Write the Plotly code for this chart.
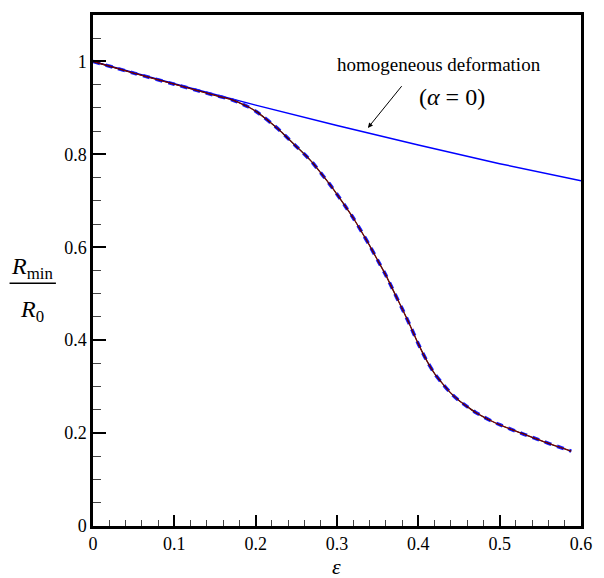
import plotly.graph_objects as go

# Homogeneous deformation line (alpha = 0)
eps_h = [0.0, 0.1, 0.2, 0.3, 0.4, 0.5, 0.6]
r_h = [1.0, 0.952, 0.906, 0.862, 0.82, 0.78, 0.743]

# Necking curve (three overlapping results)
eps_c = [0.0, 0.05, 0.1, 0.15, 0.17, 0.18, 0.19, 0.20, 0.21, 0.22, 0.23, 0.24, 0.25,
         0.26, 0.27, 0.28, 0.29, 0.30, 0.31, 0.32, 0.33, 0.34, 0.35, 0.36, 0.37, 0.38,
         0.39, 0.40, 0.41, 0.42, 0.43, 0.44, 0.45, 0.46, 0.47, 0.48, 0.49, 0.50, 0.52,
         0.54, 0.56, 0.58, 0.588]
r_c = [1.0, 0.975, 0.951, 0.927, 0.918, 0.911, 0.903, 0.893, 0.880, 0.866, 0.851, 0.834,
       0.817, 0.800, 0.782, 0.760, 0.738, 0.714, 0.689, 0.663, 0.634, 0.604, 0.572, 0.540,
       0.504, 0.468, 0.431, 0.392, 0.357, 0.328, 0.306, 0.286, 0.270, 0.257, 0.245, 0.235,
       0.226, 0.218, 0.204, 0.191, 0.178, 0.166, 0.161]

x_ticks = [0, 0.1, 0.2, 0.3, 0.4, 0.5, 0.6]
y_ticks = [0, 0.2, 0.4, 0.6, 0.8, 1.0]
x_labels = ["0", "0.1", "0.2", "0.3", "0.4", "0.5", "0.6"]
y_labels = ["0", "0.2", "0.4", "0.6", "0.8", "1"]

FONT = "Liberation Serif, Times New Roman, serif"

fig = go.Figure()
fig.add_trace(go.Scatter(x=eps_h, y=r_h, mode="lines",
                         line=dict(color="#0000ff", width=1.5), showlegend=False))
fig.add_trace(go.Scatter(x=eps_c, y=r_c, mode="lines", line_shape="spline",
                         line=dict(color="#1a1aff", width=3.5, dash="7px,6px", smoothing=0.8),
                         showlegend=False))
fig.add_trace(go.Scatter(x=eps_c, y=r_c, mode="lines", line_shape="spline",
                         line=dict(color="black", width=1.3, smoothing=0.8), showlegend=False))
fig.add_trace(go.Scatter(x=eps_c, y=r_c, mode="lines", line_shape="spline",
                         line=dict(color="#d00000", width=0.7, smoothing=0.8), showlegend=False))

fig.update_layout(
    width=604, height=578,
    margin=dict(l=93, r=12, t=13, b=52),
    paper_bgcolor="white", plot_bgcolor="white",
    font=dict(family=FONT, size=18, color="black"),
    xaxis=dict(range=[0, 0.6], tickvals=x_ticks, ticktext=x_labels,
               ticks="inside", ticklen=11, tickwidth=1.5, tickcolor="black",
               minor=dict(dtick=0.02, ticks="inside", ticklen=6, tickwidth=1, tickcolor="#444"),
               showline=True, linecolor="black", linewidth=2.5, mirror=True,
               showgrid=False, zeroline=False,
               tickfont=dict(family=FONT, size=18)),
    yaxis=dict(range=[0, 1.1], tickvals=y_ticks, ticktext=y_labels,
               ticks="inside", ticklen=13, tickwidth=2, tickcolor="black",
               minor=dict(dtick=0.05, ticks="inside", ticklen=8, tickwidth=1, tickcolor="#444"),
               showline=True, linecolor="black", linewidth=2.5, mirror=True,
               showgrid=False, zeroline=False,
               tickfont=dict(family=FONT, size=18)),
)

# x-axis title (epsilon)
fig.add_annotation(text="<i>ε</i>", xref="paper", yref="paper", x=0.498, y=-0.08,
                   xanchor="center", yanchor="middle", showarrow=False,
                   font=dict(family=FONT, size=22))

# y-axis title as fraction R_min / R_0
fig.add_annotation(text="<i>R</i><sub>min</sub>", xref="paper", yref="paper",
                   x=-0.124, y=0.505, xanchor="center", yanchor="middle", showarrow=False,
                   font=dict(family=FONT, size=24))
fig.add_shape(type="line", xref="paper", yref="paper", x0=-0.171, x1=-0.076,
              y0=0.475, y1=0.475, line=dict(color="black", width=1.5))
fig.add_annotation(text="<i>R</i><sub>0</sub>", xref="paper", yref="paper",
                   x=-0.124, y=0.42, xanchor="center", yanchor="middle", showarrow=False,
                   font=dict(family=FONT, size=24))

# annotation for homogeneous deformation
fig.add_annotation(text="homogeneous deformation", xref="x", yref="y",
                   x=0.4256, y=0.993, xanchor="center", yanchor="middle", showarrow=False,
                   font=dict(family=FONT, size=19))
fig.add_annotation(text="(<i>α</i> = 0)", xref="x", yref="y",
                   x=0.441, y=0.924, xanchor="center", yanchor="middle", showarrow=False,
                   font=dict(family=FONT, size=24))
fig.add_annotation(text="", xref="x", yref="y", axref="x", ayref="y",
                   x=0.338, y=0.857, ax=0.381, ay=0.95, showarrow=True,
                   arrowhead=2, arrowsize=1, arrowwidth=1, arrowcolor="black")

fig.write_html("out.html")
